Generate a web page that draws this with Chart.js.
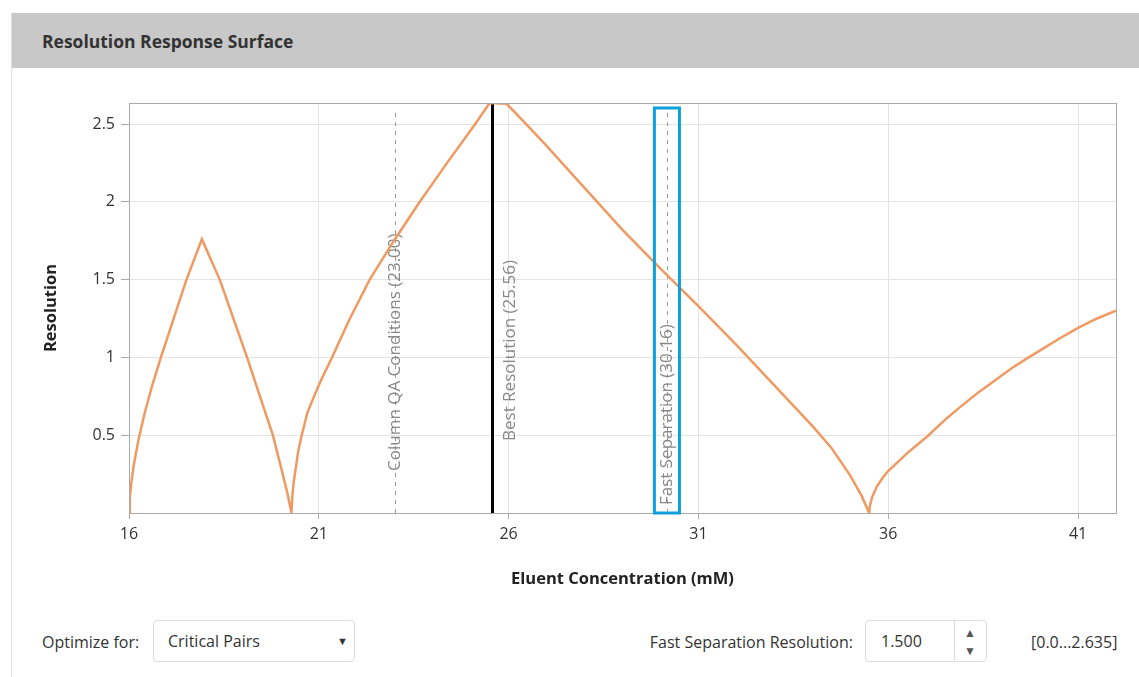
<!DOCTYPE html>
<html>
<head>
<meta charset="utf-8">
<script src="https://cdn.jsdelivr.net/npm/chart.js@4/dist/chart.umd.min.js"></script>
<style>
  body { margin: 0; background: #fff; font-family: "Open Sans", sans-serif; color: #333; }
  .panel { position: absolute; left: 11px; top: 13px; width: 1128px; height: 664px; border-left: 1px solid #ddd; }
  .head { position: absolute; left: 0; top: 0; width: 1128px; height: 55px; background: #c8c8c8; }
  .head span { position: absolute; left: 30px; top: 16px; font-weight: bold; font-size: 17.5px; color: #333; }
  .wrap { position: absolute; left: 0; top: 55px; width: 1128px; height: 532px; }
  .lbl { position: absolute; font-size: 16px; top: 618px; line-height: 22px; }
  .box { position: absolute; top: 607px; height: 40px; border: 1px solid #ddd; border-radius: 4px; background: #fff; }
  .box .t { position: absolute; top: 9px; font-size: 16px; line-height: 22px; }
</style>
</head>
<body>
<div class="panel">
  <div class="head"><span>Resolution Response Surface</span></div>
  <div class="wrap"><canvas id="myChart"></canvas></div>

  <div class="lbl" style="left:30px">Optimize for:</div>
  <div class="box" style="left:141px;width:200px">
    <div class="t" style="left:14px">Critical Pairs</div>
    <div class="t" style="left:183px;font-size:11px">&#9660;</div>
  </div>

  <div class="lbl" style="right:287px">Fast Separation Resolution:</div>
  <div class="box" style="left:853px;width:120px">
    <div class="t" style="left:15px">1.500</div>
    <div style="position:absolute;left:88px;top:0;width:1px;height:40px;background:#ddd"></div>
    <div class="t" style="left:98px;top:1px;font-size:12px;color:#555">&#9650;</div>
    <div class="t" style="left:98px;top:19px;font-size:12px;color:#555">&#9660;</div>
  </div>
  <div class="lbl" style="left:1019px">[0.0...2.635]</div>
</div>

<script>
// resolution curve
const concentration = [
    16.00, 16.02, 16.06, 16.12, 16.25, 16.40, 16.60, 16.84, 17.15, 17.50, 17.92,
    18.39, 18.75, 19.11, 19.45, 19.79, 20.05, 20.17, 20.28,
    20.30, 20.34, 20.40, 20.46, 20.54, 20.70, 20.90, 21.10, 21.33, 21.80, 22.34, 22.98, 23.66, 24.38, 25.12, 25.50, 25.95,
    26.50, 27.00, 28.00, 29.00, 30.00, 31.00, 32.00, 33.00, 34.00, 34.50, 35.00, 35.30, 35.50,
    35.52, 35.58, 35.70, 35.85, 36.00, 36.50, 37.02, 37.50, 37.94, 38.40, 38.80, 39.25, 39.70, 40.10, 40.50, 41.00, 41.50, 42.00
]
const resolution = [
    0.00, 0.10, 0.19, 0.30, 0.47, 0.63, 0.81, 1.00, 1.23, 1.49, 1.76,
    1.50, 1.25, 1.00, 0.75, 0.50, 0.25, 0.13, 0.00,
    0.10, 0.20, 0.30, 0.40, 0.49, 0.645, 0.765, 0.875, 0.99, 1.24, 1.50, 1.75, 2.00, 2.25, 2.50, 2.635, 2.63,
    2.49, 2.36, 2.09, 1.82, 1.57, 1.33, 1.08, 0.82, 0.56, 0.42, 0.24, 0.11, 0.00,
    0.05, 0.105, 0.17, 0.225, 0.27, 0.385, 0.49, 0.60, 0.69, 0.78, 0.85, 0.93, 1.00, 1.06, 1.12, 1.19, 1.25, 1.30
]

const xTicks = [16, 21, 26, 31, 36, 41]
const yTicks = [0.5, 1, 1.5, 2, 2.5]
const yMax = 2.635

const markerValues = [23.00, 25.56, 30.16]
const markerLabels = ['Column QA Conditions (23.00)', 'Best Resolution (25.56)', 'Fast Separation (30.16)']
const highlighted = 30.16

const canvas = document.getElementById('myChart')

const markers = {
    id: 'markers',
    beforeDatasetsDraw(chart) {
        const { ctx, chartArea: a, scales: { x } } = chart
        ctx.save()
        markerValues.forEach((v, i) => {
            const px = Math.round(x.getPixelForValue(v)) + 0.5
            ctx.beginPath()
            if (i === 1) {
                ctx.strokeStyle = '#000'
                ctx.lineWidth = 3
                ctx.setLineDash([])
                ctx.moveTo(px, a.top)
            } else {
                ctx.strokeStyle = '#999'
                ctx.lineWidth = 1
                ctx.setLineDash([4, 5])
                ctx.moveTo(px, a.top + 10)
            }
            ctx.lineTo(px, a.bottom)
            ctx.stroke()
        })
        ctx.setLineDash([])
        ctx.fillStyle = '#888'
        ctx.font = '17px "Open Sans", sans-serif'
        ctx.textBaseline = 'middle'
        const off = [[0, 42], [18, 72], [1, 8]]
        markerValues.forEach((v, i) => {
            const px = x.getPixelForValue(v) + off[i][0]
            ctx.save()
            ctx.translate(px, a.bottom - off[i][1])
            ctx.rotate(-Math.PI / 2)
            ctx.textAlign = 'left'
            ctx.fillText(markerLabels[i], 0, 0)
            ctx.restore()
        })
        ctx.restore()
    },
    afterDraw(chart) {
        const { ctx, chartArea: a, scales: { x } } = chart
        ctx.save()
        ctx.strokeStyle = '#aaa'
        ctx.lineWidth = 1
        ctx.strokeRect(a.left + 0.5, a.top + 0.5, a.right - a.left, a.bottom - a.top)
        // blue box around fast separation line
        const l = x.getPixelForValue(highlighted - 0.32)
        const r = x.getPixelForValue(highlighted + 0.34)
        ctx.strokeStyle = '#0ea0dc'
        ctx.lineWidth = 3
        ctx.strokeRect(l, a.top + 5, r - l, a.bottom - a.top - 5)
        ctx.restore()
    }
}

const config = {
    type: 'line',
    data: {
        datasets: [{
            label: 'Resolution',
            data: concentration.map((c, i) => ({ x: c, y: resolution[i] })),
            borderColor: '#ee9a62',
            borderWidth: 2.5,
            pointRadius: 0,
            tension: 0,
            fill: false
        }]
    },
    options: {
        responsive: true,
        maintainAspectRatio: false,
        animation: false,
        layout: { padding: { left: 0, right: 24, top: 35, bottom: 0 } },
        plugins: { legend: { display: false }, tooltip: { enabled: false } },
        scales: {
            x: {
                type: 'linear',
                min: 16,
                max: 42,
                afterBuildTicks: s => { s.ticks = xTicks.map(v => ({ value: v })) },
                afterFit: s => { s.height = 87 },
                grid: { color: '#e3e3e3', tickLength: 6, tickColor: '#aaa' },
                border: { color: '#aaa' },
                ticks: { color: '#333', font: { family: 'Open Sans', size: 16 }, padding: 6, maxRotation: 0, callback: v => String(v) },
                title: {
                    display: true, text: 'Eluent Concentration (mM)', color: '#222',
                    font: { family: 'Open Sans', size: 16.5, weight: 'bold' }, padding: { top: 4, bottom: 11 }
                }
            },
            y: {
                min: 0,
                max: yMax,
                afterBuildTicks: s => { s.ticks = yTicks.map(v => ({ value: v })) },
                afterFit: s => { s.width = 117 },
                grid: { color: '#e3e3e3', tickLength: 8, tickColor: '#aaa' },
                border: { color: '#aaa' },
                ticks: { color: '#333', font: { family: 'Open Sans', size: 16 }, padding: 6, callback: v => String(v) },
                title: {
                    display: true, text: 'Resolution', color: '#222',
                    font: { family: 'Open Sans', size: 16.5, weight: 'bold' }, padding: { top: 29, bottom: 0 }
                }
            }
        }
    },
    plugins: [markers]
}

new Chart(canvas, config)
</script>
</body>
</html>
